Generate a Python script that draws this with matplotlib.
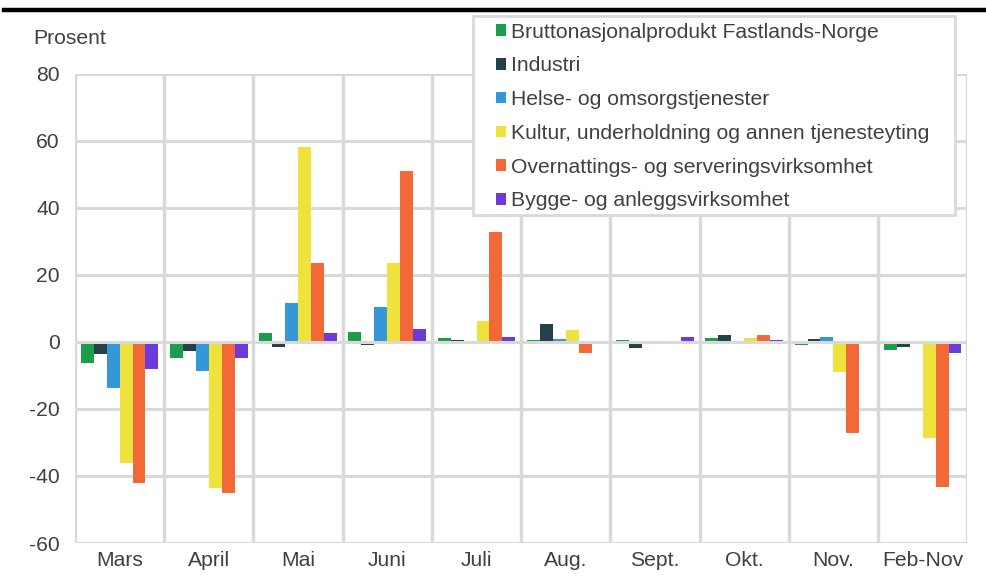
import matplotlib.pyplot as plt
import numpy as np
from matplotlib.patches import Rectangle

plt.rcParams["font.family"] = ["Liberation Sans", "DejaVu Sans"]

# ------------------------------------------------------------------
# Data
# ------------------------------------------------------------------

categories = ["Mars", "April", "Mai", "Juni", "Juli", "Aug.", "Sept.",
              "Okt.", "Nov.", "Feb-Nov"]

series_names = [
    "Bruttonasjonalprodukt Fastlands-Norge",
    "Industri",
    "Helse- og omsorgstjenester",
    "Kultur, underholdning og annen tjenesteyting",
    "Overnattings- og serveringsvirksomhet",
    "Bygge- og anleggsvirksomhet",
]

bnp = [-6.3, -4.7, 2.6, 3.0, 1.1, 0.7, 0.5, 1.2, -1.0, -2.5]
industri = [-3.7, -2.7, -1.5, -0.8, 0.5, 5.4, -1.9, 2.2, 0.9, -1.5]
helse = [-13.6, -8.6, 11.6, 10.4, -0.3, 0.9, 0.4, -0.4, 1.5, 0.1]
kultur = [-36.2, -43.6, 58.2, 23.6, 6.2, 3.5, 0.1, 1.2, -9.1, -28.7]
overnatting = [-42.1, -45.1, 23.6, 51.0, 32.8, -3.4, 0.1, 2.2, -27.2, -43.3]
bygge = [-8.1, -4.8, 2.7, 3.8, 1.6, 0.1, 1.4, 0.6, -0.6, -3.2]

series_values = [bnp, industri, helse, kultur, overnatting, bygge]

colors = ["#1b9e4b", "#24404a", "#3497d8", "#f0e23d", "#f26836", "#6b3ad8"]

yticks = [-60, -40, -20, 0, 20, 40, 60, 80]

# ------------------------------------------------------------------
# Figure
# ------------------------------------------------------------------

W, H = 987, 582
fig = plt.figure(figsize=(W / 100, H / 100), dpi=100)
ax = fig.add_axes([0.076, 0.067, 0.904, 0.806])

grid_color = "#d9d9d9"
text_color = "#404040"
fs = 15.2

x = np.arange(len(categories))
bar_w = 0.145

for k, (name, vals, col) in enumerate(zip(series_names, series_values, colors)):
    ax.bar(x + (k - 2.5) * bar_w, vals, width=bar_w, color=col,
           label=name, zorder=3)

# grid
for y in yticks:
    ax.axhline(y, color=grid_color, linewidth=2.2, zorder=1)
for b in np.arange(len(categories) + 1) - 0.5:
    ax.axvline(b, color=grid_color, linewidth=2.5, zorder=1)
ax.axhline(0, color=grid_color, linewidth=2.2, zorder=4)

ax.set_xlim(-0.5, len(categories) - 0.5)
ax.set_ylim(-60, 80)
ax.set_yticks(yticks)
ax.set_yticklabels([str(v) for v in yticks], fontsize=fs, color=text_color)
ax.set_xticks(x)
ax.set_xticklabels(categories, fontsize=fs, color=text_color)
ax.tick_params(axis="y", length=0, pad=11)
ax.tick_params(axis="x", length=0, pad=6)

for s in ax.spines.values():
    s.set_visible(False)

fig.text(33 / W, 1 - 38 / H, "Prosent", fontsize=fs, color=text_color,
         ha="left", va="center")

# legend frame drawn separately so the padding can match
ax.add_patch(Rectangle((473 / W, 1 - 215 / H), (955 - 473) / W, 199 / H,
                       transform=fig.transFigure, facecolor="white",
                       edgecolor=grid_color, linewidth=2, zorder=9,
                       clip_on=False))

leg = ax.legend(loc="upper left", bbox_to_anchor=(496 / W, 1 - 22.5 / H),
                bbox_transform=fig.transFigure,
                fontsize=fs, frameon=False,
                handlelength=0.47, handleheight=0.47, handletextpad=0.25,
                labelspacing=0.7, borderpad=0, borderaxespad=0)
leg.set_zorder(10)
for t in leg.get_texts():
    t.set_color(text_color)

# thick rule at the top
fig.add_artist(plt.Line2D([0.004, 1.0], [1 - 9.5 / H, 1 - 9.5 / H],
                          color="black", linewidth=3.2,
                          transform=fig.transFigure))

fig.savefig("out.png", dpi=100)
